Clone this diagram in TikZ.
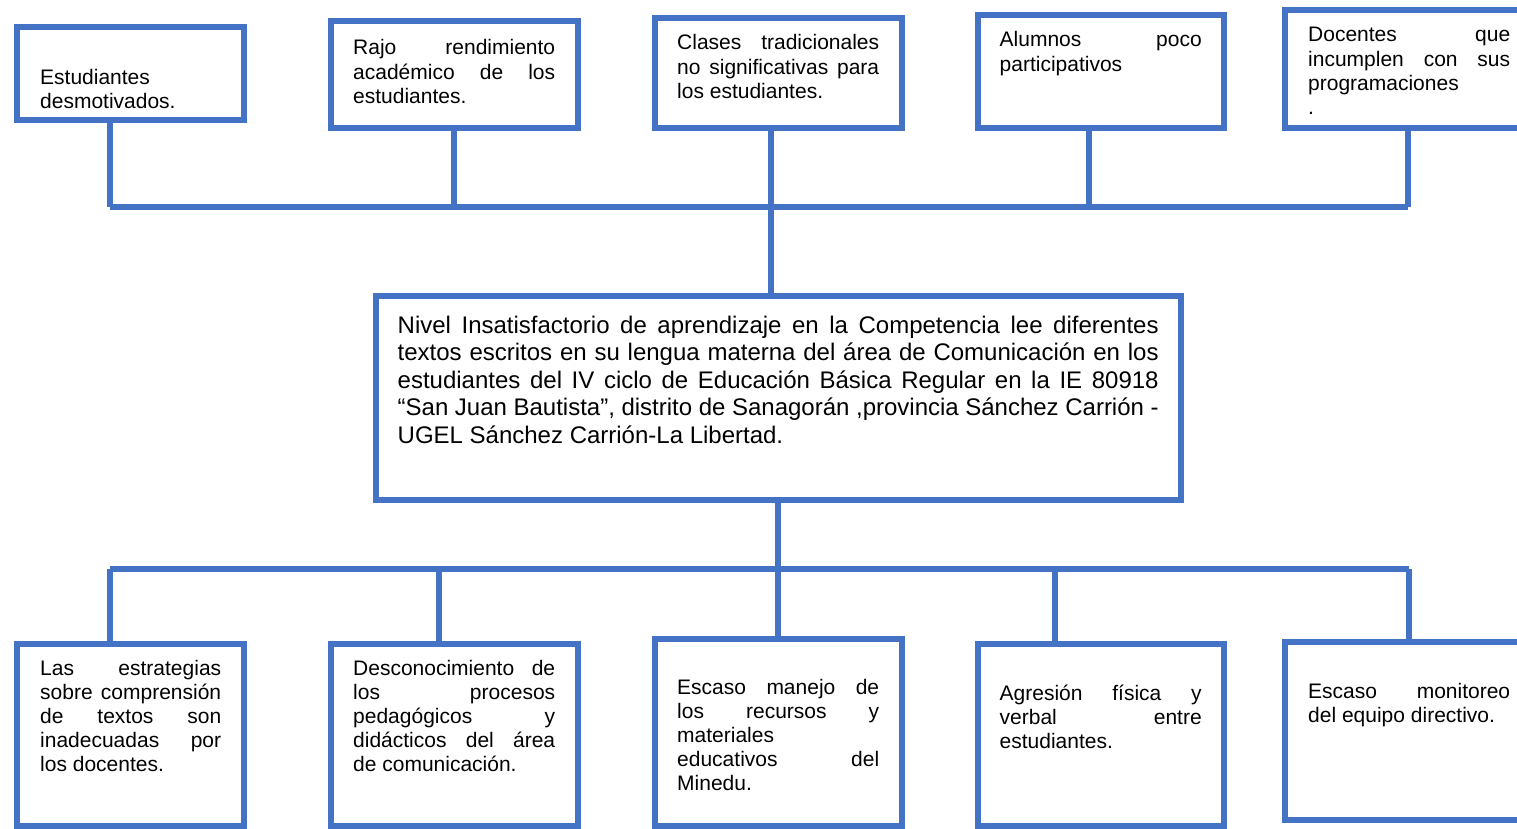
\documentclass[tikz,border=0pt]{standalone}
\usepackage{fontspec}
\setmainfont{Liberation Sans}
\definecolor{boxblue}{HTML}{4472C4}
\newcommand{\jl}[2]{\makebox[#1][s]{#2}}
\begin{document}
\begin{tikzpicture}[x=1pt,y=-1pt,
  box/.style={draw=boxblue,line width=6pt,rectangle,inner sep=0pt,fill=white},
  conn/.style={draw=boxblue,line width=6pt},
  smalltxt/.style={inner sep=0pt,anchor=base west,align=left,font=\fontsize{21}{24.15}\selectfont},
  bigtxt/.style={inner sep=0pt,anchor=base west,align=left,font=\fontsize{24}{27.5}\selectfont}]
\useasboundingbox (0,0) rectangle (1517,829);
\clip (0,0) rectangle (1517,829);
\fill[white] (0,0) rectangle (1517,829);
% x positions of connectors
\coordinate (xa) at (110,0);
\coordinate (xb) at (453.5,0);
\coordinate (xc) at (771,0);
\coordinate (xd) at (1088.5,0);
\coordinate (xe) at (1408,0);
\coordinate (ya) at (0,207);
\coordinate (yb) at (0,569);
\coordinate (xf) at (439,0);
\coordinate (xg) at (778,0);
\coordinate (xh) at (1055,0);
\coordinate (xi) at (1409,0);
% connectors (drawn first, boxes on top)
\draw[conn] (xa |- ya) -- (xe |- ya);
\draw[conn] (xa |- yb) -- (xi |- yb);
% boxes
\node[box,minimum width=227pt,minimum height=93pt] (t1) at (130.5,74) {};
\node[box,minimum width=247pt,minimum height=107.5pt] (t2) at (454,74.75) {};
\node[box,minimum width=247.5pt,minimum height=110pt] (t3) at (778.25,73) {};
\node[box,minimum width=246pt,minimum height=113pt] (t4) at (1100.5,72) {};
\node[box,minimum width=247pt,minimum height=118pt] (t5) at (1408.5,69) {};
\node[box,minimum width=805pt,minimum height=203.5pt] (m) at (778.5,397.75) {};
\node[box,minimum width=227pt,minimum height=182.5pt] (b1) at (130.5,734.75) {};
\node[box,minimum width=247pt,minimum height=182.5pt] (b2) at (454,734.75) {};
\node[box,minimum width=247.5pt,minimum height=187.5pt] (b3) at (778.25,732.25) {};
\node[box,minimum width=246pt,minimum height=182.5pt] (b4) at (1100.5,734.75) {};
\node[box,minimum width=247pt,minimum height=178pt] (b5) at (1408.5,730.5) {};
% vertical connectors
\draw[conn] (t1.south -| xa) -- (xa |- ya);
\draw[conn] (t2.south -| xb) -- (xb |- ya);
\draw[conn] (t3.south -| xc) -- (m.north -| xc);
\draw[conn] (t4.south -| xd) -- (xd |- ya);
\draw[conn] (t5.south -| xe) -- (xe |- ya);
\draw[conn] (m.south -| xg) -- (b3.north -| xg);
\draw[conn] (xa |- yb) -- (b1.north -| xa);
\draw[conn] (xf |- yb) -- (b2.north -| xf);
\draw[conn] (xh |- yb) -- (b4.north -| xh);
\draw[conn] (xi |- yb) -- (b5.north -| xi);
% texts (anchored at the baseline of their last line)
\node[smalltxt] (tt1) at (40,108.65) {Estudiantes\\desmotivados.};
\node[smalltxt] (tt2) at (353,103.3) {\jl{202pt}{Rajo rendimiento}\\\jl{202pt}{académico de los}\\estudiantes.};
\node[smalltxt] (tt3) at (677,98.3) {\jl{202pt}{Clases tradicionales}\\\jl{202pt}{no significativas para}\\los estudiantes.};
\node[smalltxt] (tt4) at (999.5,71.15) {\jl{202pt}{Alumnos poco}\\participativos};
\node[smalltxt] (tt5) at (1308,114.45) {\jl{202pt}{Docentes que}\\\jl{202pt}{incumplen con sus}\\programaciones\\.};
\node[bigtxt] (mt) at (397.5,443) {\jl{761pt}{Nivel Insatisfactorio de aprendizaje en la Competencia lee diferentes}\\\jl{761pt}{textos escritos en su lengua materna del área de Comunicación en los}\\\jl{761pt}{estudiantes del IV ciclo de Educación Básica Regular en la IE 80918}\\\jl{761pt}{“San Juan Bautista”, distrito de Sanagorán ,provincia Sánchez Carrión -}\\UGEL Sánchez Carrión-La Libertad.};
\node[smalltxt] (bt1) at (40,771.6) {\jl{181pt}{Las estrategias}\\\jl{181pt}{sobre comprensión}\\\jl{181pt}{de textos son}\\\jl{181pt}{inadecuadas por}\\los docentes.};
\node[smalltxt] (bt2) at (353,771.6) {\jl{202pt}{Desconocimiento de}\\\jl{202pt}{los procesos}\\\jl{202pt}{pedagógicos y}\\\jl{202pt}{didácticos del área}\\de comunicación.};
\node[smalltxt] (bt3) at (677,790.6) {\jl{202pt}{Escaso manejo de}\\\jl{202pt}{los recursos y}\\materiales\\\jl{202pt}{educativos del}\\Minedu.};
\node[smalltxt] (bt4) at (999.5,748.3) {\jl{202pt}{Agresión física y}\\\jl{202pt}{verbal entre}\\estudiantes.};
\node[smalltxt] (bt5) at (1308,722.15) {\jl{202pt}{Escaso monitoreo}\\del equipo directivo.};
\end{tikzpicture}
\end{document}
